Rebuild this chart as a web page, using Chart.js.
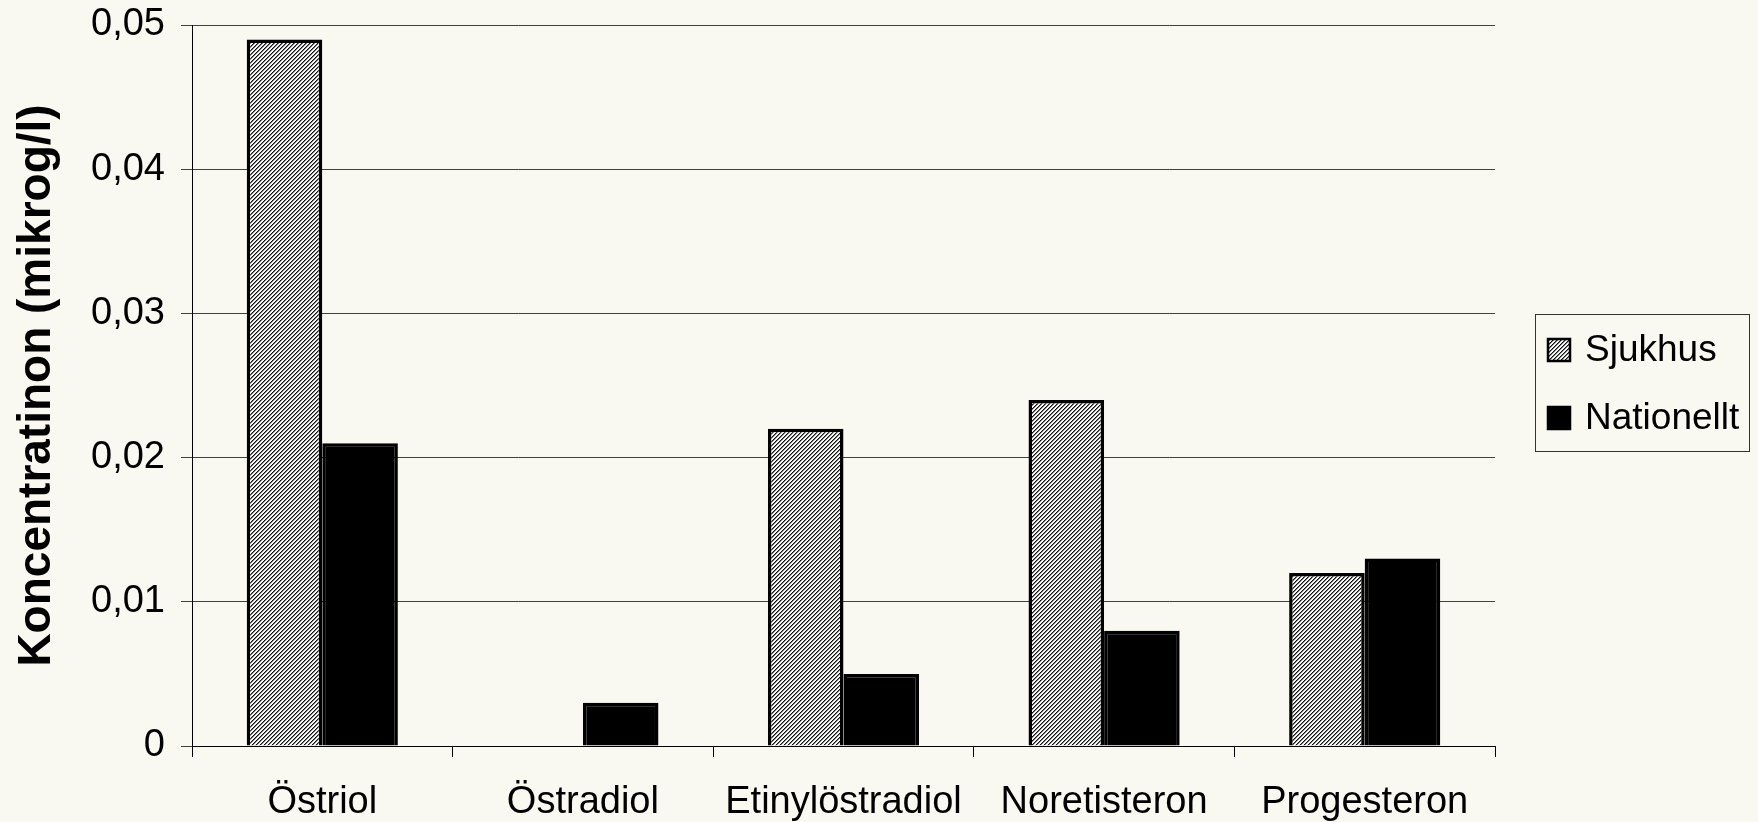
<!DOCTYPE html>
<html>
<head>
<meta charset="utf-8">
<script src="https://cdn.jsdelivr.net/npm/chart.js@4.4.1/dist/chart.umd.min.js"></script>
<style>
  html, body { margin: 0; padding: 0; background: #f9f8f1; }
  canvas { display: block; }
</style>
</head>
<body>
<canvas id="myChart" width="1758" height="822"></canvas>
<script>
// data
var categories = ['Östriol', 'Östradiol', 'Etinylöstradiol', 'Noretisteron', 'Progesteron'];
var sjukhus = [0.049, null, 0.022, 0.024, 0.012];
var nationellt = [0.021, 0.003, 0.005, 0.008, 0.013];
var seriesNames = ['Sjukhus', 'Nationellt'];
var yTickLabels = ['0', '0,01', '0,02', '0,03', '0,04', '0,05'];
var yTitle = 'Koncentratinon (mikrog/l)';

var canvas = document.getElementById('myChart');
var ctx = canvas.getContext('2d');

// diagonal hatch used for Sjukhus
function makeHatch() {
  var p = document.createElement('canvas');
  p.width = 4; p.height = 4;
  var pc = p.getContext('2d');
  var img = pc.createImageData(4, 4);
  var shades = [20, 120, 255, 240];
  for (var y = 0; y < 4; y++) {
    for (var x = 0; x < 4; x++) {
      var v = shades[(x + y) % 4];
      var i = (y * 4 + x) * 4;
      img.data[i] = v; img.data[i + 1] = v; img.data[i + 2] = v; img.data[i + 3] = 255;
    }
  }
  pc.putImageData(img, 0, 0);
  return ctx.createPattern(p, 'repeat');
}
var hatch = makeHatch();

// boxed legend to the right of the plot
var boxLegend = {
  id: 'boxLegend',
  afterDraw: function (chart) {
    var c = chart.ctx;
    c.save();
    c.strokeStyle = '#333';
    c.lineWidth = 1;
    c.strokeRect(1535.5, 314.5, 214, 137);
    var rows = [350, 418];
    chart.data.datasets.forEach(function (ds, i) {
      var y = rows[i];
      c.fillStyle = ds.backgroundColor;
      c.fillRect(1548, y - 11, 22, 22);
      c.lineWidth = 2.5;
      c.strokeStyle = '#000';
      c.strokeRect(1548, y - 11, 22, 22);
      c.fillStyle = '#000';
      c.font = '37px "Liberation Sans", Arial, sans-serif';
      c.textBaseline = 'middle';
      c.textAlign = 'left';
      c.fillText(ds.label, 1585, y + 1);
    });
    c.restore();
  }
};

var chart = new Chart(ctx, {
  type: 'bar',
  data: {
    labels: categories,
    datasets: [{
      label: seriesNames[0],
      data: sjukhus,
      backgroundColor: hatch,
      borderColor: '#000',
      borderWidth: 3.5
    }, {
      label: seriesNames[1],
      data: nationellt,
      backgroundColor: '#000',
      borderColor: '#000',
      borderWidth: 3.5
    }]
  },
  options: {
    responsive: false,
    animation: false,
    devicePixelRatio: 1,
    categoryPercentage: 0.58,
    barPercentage: 1,
    layout: { padding: { top: 25, right: 263, bottom: 0, left: 0 } },
    plugins: {
      legend: { display: false },
      tooltip: { enabled: false }
    },
    scales: {
      x: {
        grid: { drawOnChartArea: false, tickLength: 11, color: '#000', offset: true },
        border: { color: '#000', width: 1 },
        ticks: {
          color: '#000',
          padding: 23,
          font: { family: '"Liberation Sans", Arial, sans-serif', size: 38 }
        },
        afterFit: function (s) { s.height = 76; }
      },
      y: {
        min: 0,
        max: 0.05,
        ticks: {
          stepSize: 0.01,
          color: '#000',
          padding: 16,
          font: { family: '"Liberation Sans", Arial, sans-serif', size: 38 },
          callback: function (v, i) { return yTickLabels[i]; }
        },
        grid: { color: '#404040', tickLength: 11 },
        border: { color: '#000', width: 1 },
        title: {
          display: true,
          text: yTitle,
          color: '#000',
          padding: { top: 10, bottom: 0 },
          font: { family: '"Liberation Sans", Arial, sans-serif', size: 46, weight: 'bold' }
        },
        afterFit: function (s) {
          s.width = 192;
          s.paddingTop = 0;
          s.paddingBottom = 0;
        }
      }
    }
  },
  plugins: [boxLegend]
});
</script>
</body>
</html>
